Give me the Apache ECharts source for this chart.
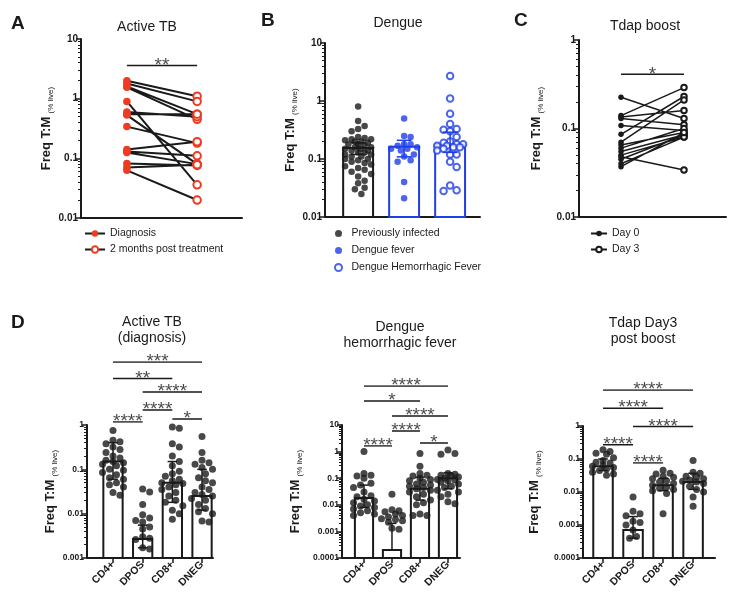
<!DOCTYPE html>
<html>
<head>
<meta charset="utf-8">
<script src="https://cdn.jsdelivr.net/npm/echarts@6/dist/echarts.min.js"></script>
<style>
  html, body { margin: 0; background: #fff; }
  #chart { width: 735px; height: 597px; }
</style>
</head>
<body>
<div id="chart"></div>
<script>
// A: active TB, paired samples (diagnosis -> 2 months post treatment)
const tbDiagnosis = [2.0, 1.8, 1.6, 1.55, 0.9, 0.6, 0.55, 0.53, 0.34, 0.14, 0.13, 0.125, 0.082, 0.07, 0.063]
const tbPost = [1.1, 0.9, 0.55, 0.45, 0.036, 0.5, 0.55, 0.08, 0.18, 0.19, 0.11, 0.08, 0.076, 0.078, 0.02]
const tbPairSig = [[0, 1, 3.6, '**']]

// B: dengue
const prevInfected = [0.8, 0.45, 0.37, 0.33, 0.3, 0.24, 0.23, 0.22, 0.22, 0.21, 0.2, 0.2, 0.19, 0.18, 0.18,
  0.17, 0.16, 0.16, 0.15, 0.15, 0.14, 0.14, 0.13, 0.13, 0.12, 0.12, 0.11, 0.11, 0.1, 0.1,
  0.095, 0.09, 0.085, 0.08, 0.075, 0.07, 0.065, 0.06, 0.055, 0.05, 0.042, 0.038, 0.032, 0.03, 0.025]
const dengueFever = [0.5, 0.25, 0.24, 0.18, 0.18, 0.17, 0.16, 0.15, 0.15, 0.14, 0.12, 0.11, 0.095, 0.09, 0.04, 0.021]
const dengueHF = [2.7, 1.1, 0.6, 0.4, 0.33, 0.32, 0.3, 0.24, 0.2, 0.19, 0.18, 0.18, 0.17, 0.17, 0.16, 0.16,
  0.15, 0.14, 0.12, 0.12, 0.09, 0.073, 0.035, 0.029, 0.028]
const dengueBar = [0.155, 0.163, 0.178]
const dengueLow = [0.12, 0.109, 0.13]
const dengueHigh = [0.19, 0.21, 0.29]

// C: Tdap boost, paired day 0 -> day 3
const tdapDay0 = [0.225, 0.14, 0.135, 0.13, 0.108, 0.086, 0.07, 0.065, 0.06, 0.055, 0.05, 0.048, 0.045, 0.04, 0.037]
const tdapDay3 = [0.13, 0.29, 0.16, 0.11, 0.095, 0.23, 0.21, 0.09, 0.1, 0.085, 0.08, 0.034, 0.085, 0.08, 0.09]
const tdapPairSig = [[0, 1, 0.41, '*']]

// D: subsets
const cells = ['CD4+', 'DPOS', 'CD8+', 'DNEG']

const tbCD4 = [0.75, 0.45, 0.42, 0.38, 0.32, 0.28, 0.24, 0.2, 0.18, 0.16, 0.15, 0.14, 0.13, 0.12, 0.1, 0.095,
  0.085, 0.075, 0.065, 0.06, 0.05, 0.045, 0.04, 0.03, 0.026]
const tbDPOS = [0.036, 0.031, 0.016, 0.0095, 0.008, 0.007, 0.0065, 0.005, 0.0045, 0.003, 0.0028, 0.0026, 0.0017, 0.0016]
const tbCD8 = [0.9, 0.85, 0.38, 0.32, 0.2, 0.15, 0.12, 0.09, 0.08, 0.07, 0.06, 0.055, 0.05, 0.048, 0.045, 0.04,
  0.035, 0.03, 0.025, 0.02, 0.018, 0.015, 0.012, 0.01, 0.0075]
const tbDNEG = [0.55, 0.24, 0.16, 0.14, 0.13, 0.11, 0.1, 0.08, 0.065, 0.055, 0.05, 0.04, 0.035, 0.03, 0.027, 0.025,
  0.022, 0.02, 0.016, 0.013, 0.011, 0.01, 0.0068, 0.0065]
const tbMedian = [0.15, 0.0027, 0.05, 0.025]
const tbLow = [0.06, 0.0017, 0.018, 0.012]
const tbHigh = [0.4, 0.0055, 0.15, 0.1]
const tbSig = [[0, 1, 0, '****'], [2, 3, 0.2, '*'], [1, 2, 0.8, '****'], [1, 3, 2, '****'], [0, 2, 2.9, '**'], [0, 3, 4, '***']]

const dhfCD4 = [1.0, 0.15, 0.13, 0.12, 0.1, 0.065, 0.055, 0.045, 0.03, 0.022, 0.02, 0.016, 0.014, 0.012, 0.01,
  0.009, 0.008, 0.007, 0.006, 0.005, 0.0045, 0.004]
const dhfDPOS = [0.025, 0.0065, 0.006, 0.0055, 0.0045, 0.004, 0.0035, 0.003, 0.0028, 0.0025, 0.0022, 0.0013, 0.0012]
const dhfCD8 = [0.85, 0.28, 0.15, 0.13, 0.12, 0.1, 0.09, 0.08, 0.07, 0.06, 0.055, 0.05, 0.045, 0.04, 0.035,
  0.03, 0.025, 0.02, 0.015, 0.012, 0.01, 0.0045, 0.004, 0.004]
const dhfDNEG = [1.15, 0.85, 0.8, 0.15, 0.14, 0.13, 0.12, 0.11, 0.1, 0.09, 0.085, 0.08, 0.07, 0.06, 0.05, 0.045,
  0.035, 0.03, 0.025, 0.02, 0.013, 0.011]
const dhfMedian = [0.018, 0.0002, 0.04, 0.1]
const dhfLow = [0.008, 0.0002, 0.015, 0.04]
const dhfHigh = [0.055, 0.002, 0.11, 0.16]
const dhfSig = [[0, 1, 0, '****'], [2, 3, 0.2, '*'], [1, 2, 1, '****'], [1, 3, 2, '****'], [0, 2, 3, '*'], [0, 3, 4, '****']]

const tdCD4 = [0.19, 0.17, 0.15, 0.14, 0.11, 0.09, 0.08, 0.075, 0.065, 0.06, 0.055, 0.05, 0.045, 0.04, 0.035, 0.032]
const tdDPOS = [0.007, 0.0026, 0.0022, 0.0019, 0.0013, 0.0012, 0.001, 0.0007, 0.00045, 0.0004]
const tdCD8 = [0.046, 0.037, 0.035, 0.03, 0.028, 0.025, 0.022, 0.02, 0.018, 0.016, 0.014, 0.013, 0.012, 0.011, 0.009, 0.0022]
const tdDNEG = [0.09, 0.04, 0.037, 0.03, 0.028, 0.025, 0.023, 0.021, 0.02, 0.018, 0.015, 0.012, 0.01, 0.007, 0.0037]
const tdMedian = [0.06, 0.0007, 0.016, 0.02]
const tdLow = [0.045, 0.0004, 0.011, 0.012]
const tdHigh = [0.1, 0.0018, 0.026, 0.037]
const tdSig = [[1, 2, 0, '****'], [0, 1, 1, '****'], [1, 3, 2, '****'], [0, 2, 3, '****'], [0, 3, 4, '****']]

const ink = '#1a1a1a'
const red = '#ef3b22'
const blue = '#1f3fe6'
const log = Math.log10

// log10 -> '0.01', '0.1', '1', '10'
function logLabel(v) {
  return v >= 0 ? String(Math.round(Math.pow(10, v))) : Math.pow(10, v).toFixed(-Math.round(v))
}

function minorTicks(lo, hi) {
  const t = []
  for (let d = lo; d < hi; d++) {
    for (let k = 2; k < 10; k++) t.push(d + log(k))
  }
  return t
}

// simple beeswarm so dots in one column don't pile up
function swarm(values, decadePx, unitPx, size, maxPx) {
  const placed = []
  const offsets = new Array(values.length).fill(0)
  const order = values.map((v, i) => i).sort((a, b) => values[b] - values[a])
  const steps = 2 * Math.floor(maxPx / (size * 0.5))
  order.forEach(i => {
    const y = log(values[i]) * decadePx
    let best = 0, bestGap = -Infinity
    for (let k = 0; k <= steps; k++) {
      const x = (k % 2 ? 1 : -1) * Math.ceil(k / 2) * size * 0.5
      let gap = Infinity
      placed.forEach(p => { gap = Math.min(gap, Math.hypot(p[0] - x, p[1] - y)) })
      if (gap >= size) { best = x; break }
      if (gap > bestGap) { best = x; bestGap = gap }
    }
    placed.push([best, y])
    offsets[i] = best / unitPx
  })
  return offsets
}

const grids = [
  {left: 81, top: 39, width: 161, height: 179},
  {left: 325, top: 43, width: 155, height: 174},
  {left: 579, top: 40, width: 147, height: 177},
  {left: 87, top: 425, width: 126, height: 133},
  {left: 342, top: 425, width: 118, height: 133},
  {left: 583, top: 426, width: 132, height: 132},
  {left: 87, top: 362, width: 126, height: 60},
  {left: 342, top: 386, width: 118, height: 60},
  {left: 583, top: 390, width: 132, height: 73}
]
const xRanges = [[-0.653, 1.639], [-0.72, 2.65], [-0.667, 1.667], [-0.876, 3.37], [-0.786, 3.43], [-0.667, 3.73]]
const yRanges = [[-2, 1], [-2, 1], [-2, 0], [-3, 0], [-4, 1], [-4, 0]]
const nameGaps = [28, 19, 36, 24, 40, 42]

function xAxisFor(g) {
  const [min, max] = xRanges[g]
  const ax = {
    type: 'value', gridIndex: g, min, max,
    axisLine: {onZero: false, lineStyle: {color: ink, width: 2}},
    axisTick: {show: false}, axisLabel: {show: false}, splitLine: {show: false}
  }
  if (g >= 3) {
    const idx = cells.map((c, i) => i)
    ax.axisTick = {show: true, customValues: idx, length: 5, lineStyle: {color: ink, width: 1.5}}
    ax.axisLabel = {
      show: true, customValues: idx, rotate: 45, margin: 5,
      formatter: v => cells[Math.round(v)], color: ink, fontWeight: 'bold', fontSize: 10.5
    }
  }
  return ax
}

function yMain(g) {
  const [min, max] = yRanges[g]
  return {
    type: 'value', gridIndex: g, position: 'left', min, max, interval: 1,
    name: '{a|Freq T:M} {b|(% live)}', nameLocation: 'middle', nameGap: nameGaps[g],
    nameTextStyle: {
      color: ink,
      rich: {
        a: {fontSize: 13, fontWeight: 'bold', color: ink, verticalAlign: 'bottom'},
        b: {fontSize: 8, color: ink, verticalAlign: 'bottom', padding: [0, 0, -2, 0]}
      }
    },
    axisLine: {show: true, onZero: false, lineStyle: {color: ink, width: 2}},
    axisTick: {show: true, length: 5, lineStyle: {color: ink, width: 1.5}},
    axisLabel: {color: ink, fontWeight: 'bold', fontSize: g >= 3 ? 8.5 : 10, margin: 3, formatter: logLabel},
    splitLine: {show: false}
  }
}

function yMinor(g) {
  const [min, max] = yRanges[g]
  return {
    type: 'value', gridIndex: g, position: 'left', min, max,
    axisLine: {show: false, onZero: false},
    axisTick: {show: true, customValues: minorTicks(min, max), length: 3, lineStyle: {color: ink, width: 1}},
    axisLabel: {show: false}, splitLine: {show: false}
  }
}

function bracketAxis(g) {
  return {type: 'value', gridIndex: g, min: 0, max: 4, show: false}
}

function brackets(xi, yi, list, toY) {
  const segs = []
  const stars = []
  list.forEach(([a, b, level, text]) => {
    segs.push([a, toY(level)], [b, toY(level)], ['-', '-'])
    stars.push({name: text, value: [(a + b) / 2, toY(level)]})
  })
  return [
    {
      type: 'line', xAxisIndex: xi, yAxisIndex: yi, data: segs, symbol: 'none', silent: true, z: 5,
      lineStyle: {color: ink, width: 1.5}
    },
    {
      type: 'scatter', xAxisIndex: xi, yAxisIndex: yi, data: stars, symbolSize: 1, silent: true, z: 5,
      itemStyle: {color: 'rgba(0,0,0,0)'},
      label: {show: true, position: 'inside', formatter: '{b}', color: ink, fontSize: 19, offset: [0, 0]}
    }
  ]
}

function bars(g, medians, colors) {
  return {
    type: 'custom', xAxisIndex: g, yAxisIndex: g, z: 1, silent: true,
    data: medians.map((m, i) => [i, log(m)]),
    renderItem(params, api) {
      const top = api.coord([api.value(0), api.value(1)])
      const w = api.size([0.65, 0])[0]
      const base = params.coordSys.y + params.coordSys.height
      return {
        type: 'rect',
        shape: {x: top[0] - w / 2, y: top[1], width: w, height: base - top[1]},
        style: {fill: '#fff', stroke: colors[params.dataIndex], lineWidth: 2}
      }
    }
  }
}

function errorBars(g, lows, highs, colors) {
  return {
    type: 'custom', xAxisIndex: g, yAxisIndex: g, z: 4, silent: true,
    data: lows.map((lo, i) => [i, log(lo), log(highs[i])]),
    renderItem(params, api) {
      const lo = api.coord([api.value(0), api.value(1)])
      const hi = api.coord([api.value(0), api.value(2)])
      const cap = api.size([0.32, 0])[0] / 2
      const style = {stroke: colors[params.dataIndex], lineWidth: 1.5}
      return {
        type: 'group',
        children: [
          {type: 'line', shape: {x1: lo[0], y1: lo[1], x2: hi[0], y2: hi[1]}, style},
          {type: 'line', shape: {x1: hi[0] - cap, y1: hi[1], x2: hi[0] + cap, y2: hi[1]}, style},
          {type: 'line', shape: {x1: lo[0] - cap, y1: lo[1], x2: lo[0] + cap, y2: lo[1]}, style}
        ]
      }
    }
  }
}

function dots(g, groups, decadePx, unitPx) {
  const pts = []
  groups.forEach((vals, k) => {
    const off = swarm(vals, decadePx, unitPx, 7, 12)
    vals.forEach((v, i) => pts.push([k + off[i], log(v)]))
  })
  return {
    type: 'scatter', xAxisIndex: g, yAxisIndex: g, z: 2, silent: true,
    data: pts, symbolSize: 7, itemStyle: {color: ink}
  }
}

function bDots(name, vals, k, symbol, color) {
  const off = swarm(vals, 57.8, 46, 6.5, 14)
  return {
    name, type: 'scatter', xAxisIndex: 1, yAxisIndex: 1, z: 2, silent: true,
    data: vals.map((v, i) => [k + off[i], log(v)]),
    symbol, symbolSize: 6.5,
    itemStyle: {color, borderWidth: symbol === 'emptyCircle' ? 1.5 : 0}
  }
}

// paired panels: one line series carries the connecting lines, a second one the "after" symbols
function pairSeries(g, before, after, names, color, size, width) {
  const joined = []
  before.forEach((b, i) => {
    joined.push([0, log(b)], {value: [1, log(after[i])], symbol: 'none'}, ['-', '-'])
  })
  const afterPts = []
  after.forEach(a => afterPts.push([1, log(a)], ['-', '-']))
  return [
    {
      name: names[0], type: 'line', xAxisIndex: g, yAxisIndex: g, z: 2, silent: true,
      data: joined, symbol: 'circle', symbolSize: size, showAllSymbol: true,
      itemStyle: {color}, lineStyle: {color: ink, width}
    },
    {
      name: names[1], type: 'line', xAxisIndex: g, yAxisIndex: g, z: 3, silent: true,
      data: afterPts, symbol: 'emptyCircle', symbolSize: size, showAllSymbol: true,
      itemStyle: {color, borderWidth: 1.5}, lineStyle: {color: ink, width}
    }
  ]
}

function titleAt(text, left, top, bold) {
  return {
    text, left, top, textAlign: bold ? 'left' : 'center',
    textStyle: {
      fontSize: bold ? 19 : 14, fontWeight: bold ? 'bold' : 'normal',
      color: ink, lineHeight: 16
    }
  }
}

const chart = echarts.init(document.getElementById('chart'), null, {renderer: 'canvas'})

chart.setOption({
  animation: false,
  backgroundColor: '#fff',
  textStyle: {fontFamily: "'Liberation Sans', Arial, sans-serif"},
  title: [
    titleAt('A', 6, 11, true),
    titleAt('Active TB', 142, 14),
    titleAt('B', 256, 8, true),
    titleAt('Dengue', 393, 10),
    titleAt('C', 509, 8, true),
    titleAt('Tdap boost', 640, 13),
    titleAt('D', 6, 310, true),
    titleAt('Active TB\n(diagnosis)', 147, 309),
    titleAt('Dengue\nhemorrhagic fever', 395, 314),
    titleAt('Tdap Day3\npost boost', 638, 310)
  ],
  legend: [
    {
      data: ['Diagnosis', '2 months post treatment'], orient: 'vertical', left: 84, top: 228,
      itemWidth: 20, itemHeight: 8, itemGap: 5, padding: 0, selectedMode: false,
      textStyle: {fontSize: 10.5, color: ink}
    },
    {
      data: ['Previously infected', 'Dengue fever', 'Dengue Hemorrhagic Fever'], orient: 'vertical', left: 334, top: 228,
      itemWidth: 16, itemHeight: 7, itemGap: 6, padding: 0, selectedMode: false,
      textStyle: {fontSize: 10.5, color: ink}
    },
    {
      data: ['Day 0', 'Day 3'], orient: 'vertical', left: 590, top: 228,
      itemWidth: 16, itemHeight: 7, itemGap: 5, padding: 0, selectedMode: false,
      textStyle: {fontSize: 10.5, color: ink}
    }
  ],
  grid: grids,
  xAxis: [0, 1, 2, 3, 4, 5].map(xAxisFor).concat([6, 7, 8].map(g => ({
    type: 'value', gridIndex: g, min: xRanges[g - 3][0], max: xRanges[g - 3][1], show: false
  }))),
  yAxis: [0, 1, 2, 3, 4, 5].map(yMain)
    .concat([0, 1, 2, 3, 4, 5].map(yMinor))
    .concat([6, 7, 8].map(bracketAxis)),
  series: [
    ...pairSeries(0, tbDiagnosis, tbPost, ['Diagnosis', '2 months post treatment'], red, 7.5, 2),
    ...brackets(0, 0, tbPairSig, log),

    bars(1, dengueBar, [ink, blue, blue]),
    bDots('Previously infected', prevInfected, 0, 'circle', ink),
    bDots('Dengue fever', dengueFever, 1, 'circle', blue),
    bDots('Dengue Hemorrhagic Fever', dengueHF, 2, 'emptyCircle', blue),
    errorBars(1, dengueLow, dengueHigh, [ink, blue, blue]),

    ...pairSeries(2, tdapDay0, tdapDay3, ['Day 0', 'Day 3'], ink, 5.5, 1.5),
    ...brackets(2, 2, tdapPairSig, log),

    bars(3, tbMedian, [ink, ink, ink, ink]),
    dots(3, [tbCD4, tbDPOS, tbCD8, tbDNEG], 44.4, 29.7),
    errorBars(3, tbLow, tbHigh, [ink, ink, ink, ink]),
    ...brackets(6, 12, tbSig, v => v),

    bars(4, dhfMedian, [ink, ink, ink, ink]),
    dots(4, [dhfCD4, dhfDPOS, dhfCD8, dhfDNEG], 26.6, 28),
    errorBars(4, dhfLow, dhfHigh, [ink, ink, ink, ink]),
    ...brackets(7, 13, dhfSig, v => v),

    bars(5, tdMedian, [ink, ink, ink, ink]),
    dots(5, [tdCD4, tdDPOS, tdCD8, tdDNEG], 33, 30),
    errorBars(5, tdLow, tdHigh, [ink, ink, ink, ink]),
    ...brackets(8, 14, tdSig, v => v)
  ]
})
</script>
</body>
</html>
